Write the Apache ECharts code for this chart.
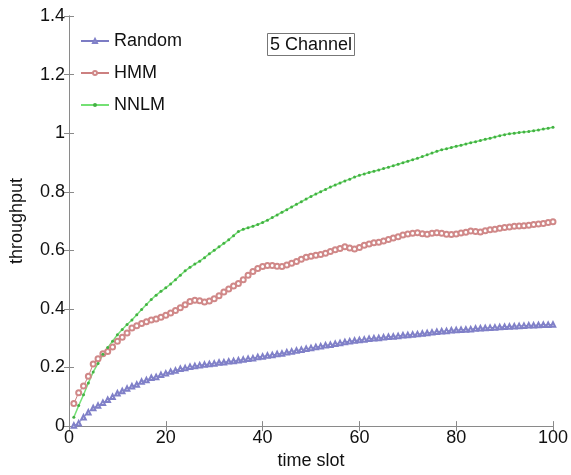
<!DOCTYPE html>
<html><head><meta charset="utf-8">
<script src="https://cdn.jsdelivr.net/npm/echarts@6/dist/echarts.min.js"></script>
<style>html,body{margin:0;padding:0;background:#fff}#c{width:571px;height:475px}</style>
</head><body><div id="c"></div>
<script>
const timeSlots = Array.from({length:100},(_,i)=>i+1);
const xTicks = [0,20,40,60,80,100];
const yTicks = [0,0.2,0.4,0.6,0.8,1,1.2,1.4];
const randomVals = [0.002,0.01,0.03,0.047,0.062,0.07,0.08,0.09,0.1,0.112,
0.12,0.128,0.136,0.142,0.152,0.157,0.165,0.168,0.175,0.18,
0.186,0.19,0.196,0.198,0.203,0.205,0.208,0.21,0.212,0.214,
0.217,0.218,0.221,0.222,0.225,0.227,0.23,0.232,0.236,0.238,
0.241,0.243,0.246,0.248,0.252,0.255,0.258,0.261,0.264,0.267,
0.27,0.273,0.276,0.278,0.281,0.284,0.287,0.29,0.292,0.294,
0.296,0.298,0.3,0.301,0.303,0.305,0.306,0.308,0.31,0.311,
0.313,0.314,0.316,0.318,0.32,0.322,0.324,0.325,0.327,0.328,
0.329,0.33,0.331,0.333,0.334,0.335,0.336,0.337,0.338,0.339,
0.34,0.341,0.342,0.343,0.344,0.344,0.345,0.346,0.346,0.347];
const hmmVals = [0.077,0.114,0.137,0.17,0.212,0.23,0.247,0.255,0.27,0.29,
0.303,0.318,0.335,0.343,0.35,0.356,0.362,0.366,0.372,0.378,
0.386,0.395,0.404,0.414,0.425,0.43,0.428,0.424,0.427,0.435,
0.445,0.458,0.468,0.478,0.487,0.5,0.515,0.528,0.538,0.545,
0.548,0.548,0.546,0.545,0.55,0.556,0.562,0.57,0.576,0.58,
0.583,0.586,0.59,0.596,0.602,0.606,0.612,0.608,0.605,0.61,
0.617,0.622,0.626,0.628,0.632,0.637,0.642,0.646,0.652,0.656,
0.658,0.66,0.657,0.655,0.658,0.66,0.658,0.655,0.654,0.656,
0.659,0.662,0.666,0.664,0.663,0.667,0.67,0.672,0.675,0.678,
0.68,0.682,0.683,0.684,0.686,0.688,0.69,0.692,0.695,0.698];
const nnlmVals = [0.03,0.07,0.107,0.147,0.185,0.214,0.245,0.268,0.29,0.312,
0.33,0.347,0.362,0.38,0.398,0.415,0.432,0.447,0.46,0.472,
0.485,0.5,0.515,0.53,0.542,0.553,0.563,0.575,0.588,0.6,
0.612,0.624,0.636,0.65,0.664,0.672,0.677,0.682,0.688,0.695,
0.703,0.712,0.721,0.73,0.739,0.748,0.757,0.766,0.775,0.784,
0.792,0.8,0.808,0.816,0.823,0.83,0.837,0.843,0.85,0.856,
0.861,0.866,0.87,0.874,0.879,0.884,0.889,0.894,0.899,0.904,
0.909,0.914,0.92,0.926,0.932,0.938,0.943,0.947,0.951,0.955,
0.959,0.963,0.967,0.971,0.975,0.979,0.983,0.987,0.991,0.995,
0.998,1.0,1.002,1.004,1.006,1.008,1.011,1.014,1.017,1.02];
const seriesNames = ['Random','HMM','NNLM'];

const font = 'Liberation Sans, Arial, sans-serif';
const axisColor = '#8a8a8a';
const pair = v => timeSlots.map((t,i)=>[t,v[i]]);
const chart = echarts.init(document.getElementById('c'),null,{renderer:'canvas'});
const baseX = {type:'value',min:0,max:100,interval:20,
  axisLine:{show:true,lineStyle:{color:axisColor,width:1}},
  axisTick:{show:true,inside:true,length:5,lineStyle:{color:axisColor}},
  splitLine:{show:false}};
const baseY = {type:'value',min:0,max:1.4,interval:0.2,
  axisLine:{show:true,lineStyle:{color:axisColor,width:1}},
  axisTick:{show:true,inside:true,length:5,lineStyle:{color:axisColor}},
  splitLine:{show:false}};
chart.setOption({
  animation:false,
  backgroundColor:'#fff',
  title:{text:'5 Channel',left:267,top:33,padding:[3,3,2,3],borderWidth:1,borderColor:'#777',
    textStyle:{fontFamily:font,fontSize:18,fontWeight:'normal',color:'#111'}},
  legend:{orient:'vertical',left:75,top:27,itemGap:14,itemWidth:28,itemHeight:5,
    data:seriesNames,
    textStyle:{fontFamily:font,fontSize:18,color:'#111'}},
  grid:{left:67,right:17,top:16,bottom:41,containLabel:false},
  xAxis:[
    Object.assign({},baseX,{position:'bottom',name:'time slot',nameLocation:'middle',nameGap:22,
      nameTextStyle:{fontFamily:font,fontSize:18,color:'#111'},
      axisLabel:{fontFamily:font,fontSize:18,color:'#111',margin:3,
        formatter:v=>xTicks.includes(v)?String(v):''}}),
    Object.assign({},baseX,{position:'top',axisLabel:{show:false}})
  ],
  yAxis:[
    Object.assign({},baseY,{position:'left',name:'throughput',nameLocation:'middle',nameGap:43,
      nameTextStyle:{fontFamily:font,fontSize:18,color:'#111'},
      axisLabel:{fontFamily:font,fontSize:18,color:'#111',margin:4,
        formatter:v=>{const k=yTicks.find(t=>Math.abs(t-v)<1e-9);return k===undefined?'':String(+k.toFixed(1));}}}),
    Object.assign({},baseY,{position:'right',axisLabel:{show:false}})
  ],
  series:[
    {name:'Random',type:'line',data:pair(randomVals),symbol:'emptyTriangle',symbolSize:4.5,
      color:'#8080c8',lineStyle:{width:1,color:'#7c7cc4'},itemStyle:{color:'#8080c8',borderWidth:0.6}},
    {name:'HMM',type:'line',data:pair(hmmVals),symbol:'emptyCircle',symbolSize:5,
      color:'#d08888',lineStyle:{width:1,color:'#cc8080'},itemStyle:{color:'#d08888',borderWidth:0.6}},
    {name:'NNLM',type:'line',data:pair(nnlmVals),symbol:'circle',symbolSize:3,
      color:'#50c850',lineStyle:{width:1.5,color:'#74e074'},itemStyle:{color:'#44b044'}}
  ]
});
</script></body></html>
